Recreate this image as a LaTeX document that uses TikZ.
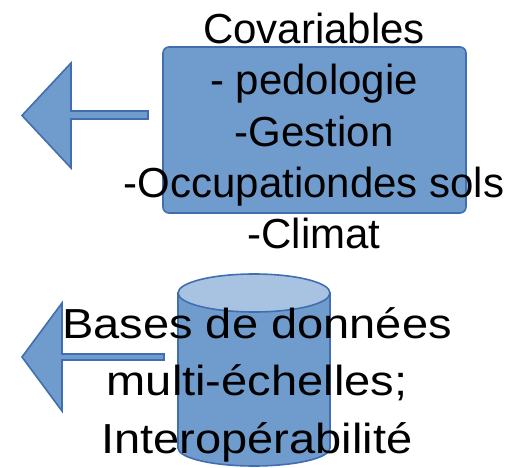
\documentclass[tikz,border=0pt]{standalone}
\usepackage{fontspec}
\setmainfont{Liberation Sans}
\newfontfamily\widesans[FakeStretch=1.12]{Liberation Sans}
\definecolor{shapefill}{RGB}{112,155,205}
\definecolor{shapeline}{RGB}{65,110,175}
\definecolor{topfill}{RGB}{168,195,226}
\tikzset{
  blueshape/.style={fill=shapefill, draw=shapeline, line width=1.6pt, line join=miter},
  toptext/.style={align=center, inner sep=0pt, font=\fontsize{42}{51.25}\selectfont},
  bottext/.style={align=center, inner sep=0pt, font=\widesans\fontsize{42}{57.5}\selectfont},
}
\begin{document}
\begin{tikzpicture}[x=1pt,y=-1pt]
\useasboundingbox (0,0) rectangle (512,468);
% top arrow
\draw[blueshape] (148,111) -- (71,111) -- (71,63) -- (22,115.5) -- (71,168) -- (71,119) -- (148,119) -- cycle;
% rounded rectangle
\draw[blueshape, rounded corners=6pt] (163,47) rectangle (466,213);
% bottom arrow
\draw[blueshape] (164,354) -- (62,354) -- (62,303) -- (22,357) -- (62,411) -- (62,360) -- (164,360) -- cycle;
% cylinder
\draw[blueshape] (178,293) -- (178,448) arc[start angle=180, end angle=360, x radius=76, y radius=-18] -- (330,293) -- cycle;
\draw[blueshape, fill=topfill] (254,293) ellipse[x radius=76, y radius=19];
% texts
\node[toptext] (cov) at (314,131) {Covariables\\- pedologie\\-Gestion\\-Occupationdes sols\\-Climat};
\node[bottext] (bdd) at (257,384.5) {Bases de données\\multi-échelles;\\Interopérabilité};
\end{tikzpicture}
\end{document}
